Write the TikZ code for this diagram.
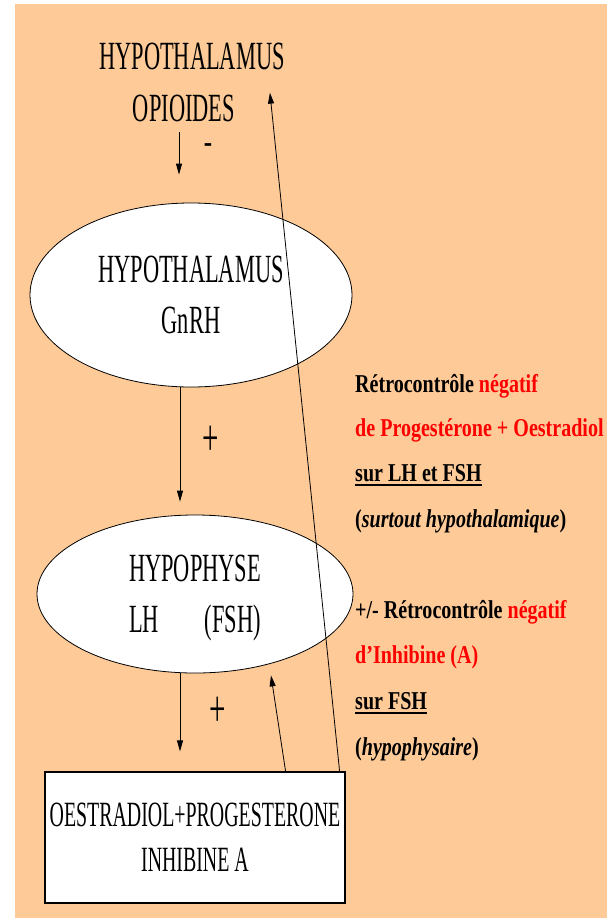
\documentclass[tikz,border=0pt]{standalone}
\usepackage{fontspec}
\usetikzlibrary{shapes.geometric,arrows.meta}
\setmainfont{Liberation Serif}
\newfontfamily\labelfont[FakeStretch=0.56]{Liberation Serif}
\newfontfamily\notefont[FakeStretch=0.78]{Liberation Serif}
\definecolor{peach}{RGB}{253,202,152}
\begin{document}
\begin{tikzpicture}[x=1pt,y=-1pt,
  lbl/.style={inner sep=0pt,font=\labelfont\fontsize{40}{52}\selectfont},
  sign/.style={inner sep=0pt,font=\labelfont\fontsize{52}{52}\selectfont},
  oval/.style={ellipse,draw,fill=white,line width=0.8pt,inner sep=0pt,align=center,text depth=0pt,font=\labelfont\fontsize{40}{51}\selectfont},
  hormbox/.style={rectangle,draw,fill=white,line width=1.2pt,inner sep=0pt,align=center,text depth=0pt,minimum width=300pt,minimum height=131pt,font=\labelfont\fontsize{35.5}{45}\selectfont},
  note/.style={anchor=base west,inner sep=0pt,font=\notefont\bfseries\fontsize{25.7}{30}\selectfont},
  arr/.style={-{Triangle[length=11pt,width=6pt]},line width=0.8pt},
  uline/.style={line width=1.8pt}]
  \useasboundingbox (0,0) rectangle (607,918);
  \fill[white] (0,0) rectangle (607,918);
  \fill[peach] (15,4) rectangle (607,918);
  % opioides
  \node[lbl] (hyp0) at (192,56) {HYPOTHALAMUS};
  \node[lbl] (opio) at (184,108.5) {OPIOIDES};
  \node[inner sep=0pt,font=\notefont\bfseries\fontsize{32}{32}\selectfont] (minus) at (208,148) {-};
  % axe
  \node[oval,minimum width=322pt,minimum height=184pt] (hyp1) at (191,295) {HYPOTHALAMUS\\GnRH};
  \node[oval,minimum width=316pt,minimum height=158pt] (hypo2) at (195,594) {HYPOPHYSE\\LH\hspace{46pt}(FSH)};
  \node[hormbox] (box) at (195,837.5) {OESTRADIOL+PROGESTERONE\\INHIBINE A};
  \draw[arr,shorten <=10pt,shorten >=28pt] ([xshift=-5pt]opio.south) -- ([xshift=-12pt]hyp1.north);
  \draw[arr,shorten >=13pt] ([xshift=-11pt]hyp1.south) -- ([xshift=-15pt]hypo2.north);
  \node[sign] (plus1) at (211,441) {+};
  \draw[arr,shorten >=20pt] ([xshift=-15pt]hypo2.south) -- ([xshift=-15pt]box.north);
  \node[sign] (plus2) at (218,712) {+};
  % retrocontroles
  \draw[arr] ([xshift=-60pt]box.north east) -- ([xshift=76pt,yshift=-2pt]hypo2.south);
  \draw[arr] ([xshift=-6pt]box.north east) -- ([xshift=-15pt,yshift=-23pt]hyp0.south east);
  \node[note] (r1) at (355,392) {Rétrocontrôle \textcolor{red}{négatif}};
  \node[note,text=red] (r2) at (355,436) {de Progestérone + Oestradiol};
  \node[note] (r3) at (355,481) {sur LH et FSH};
  \node[note] (r4) at (355,527) {(\textit{surtout hypothalamique})};
  \draw[uline] ([yshift=-4pt]r3.base west) -- ([yshift=-4pt]r3.base east);
  \node[note] (s1) at (355,618) {+/- Rétrocontrôle \textcolor{red}{négatif}};
  \node[note,text=red] (s2) at (355,663) {d’Inhibine (A)};
  \node[note] (s3) at (355,709) {sur FSH};
  \node[note] (s4) at (355,755) {(\textit{hypophysaire})};
  \draw[uline] ([yshift=-4pt]s3.base west) -- ([yshift=-4pt]s3.base east);
\end{tikzpicture}
\end{document}
